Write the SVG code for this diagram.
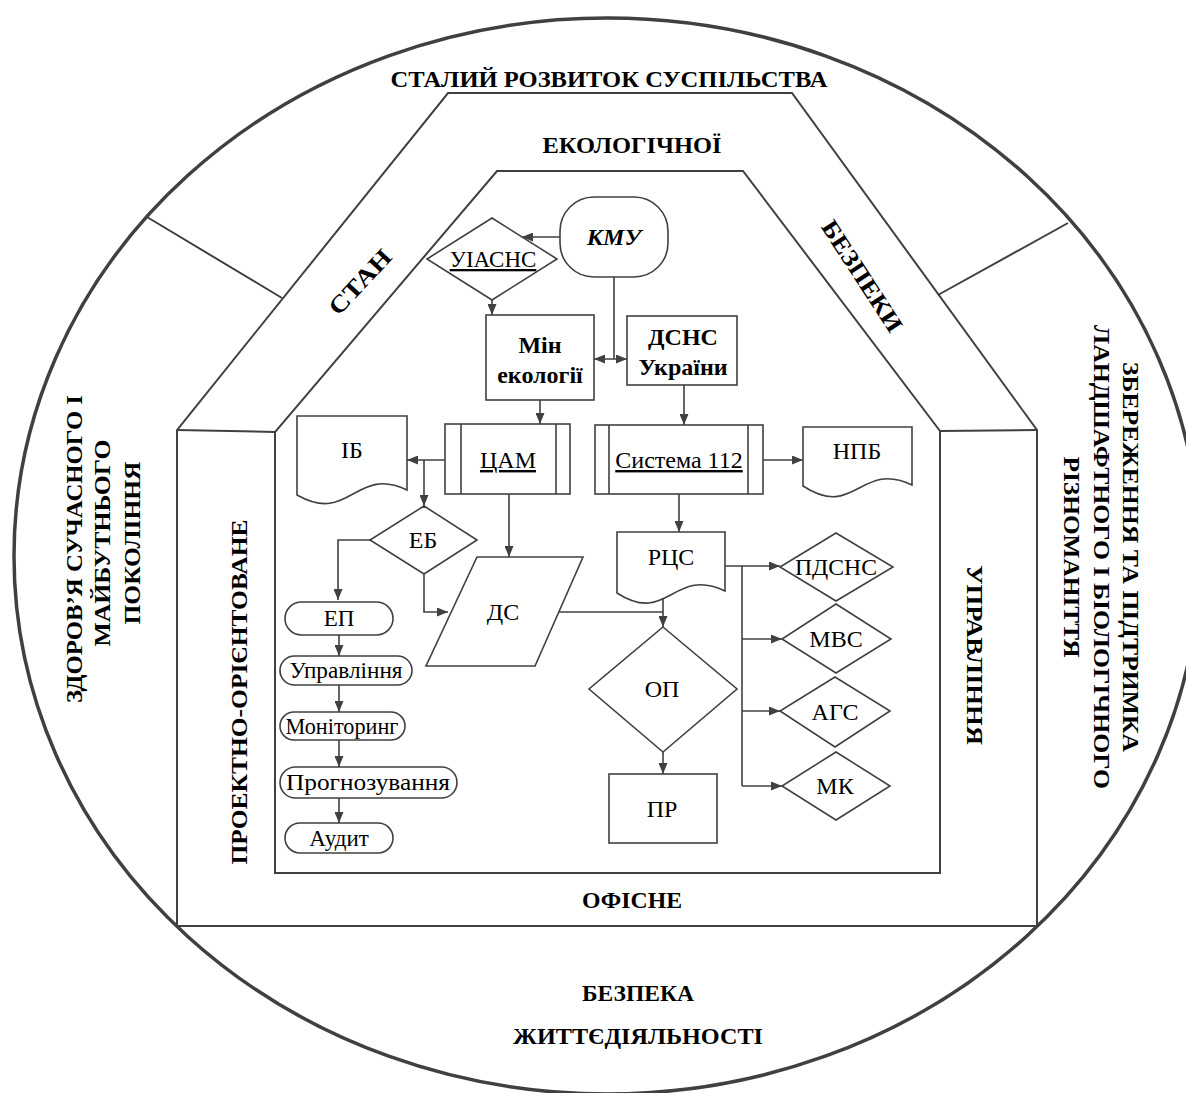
<svg xmlns="http://www.w3.org/2000/svg" width="1186" height="1093" viewBox="0 0 1186 1093" font-family="'Liberation Serif', 'DejaVu Serif', 'Times New Roman', serif">
<style>
text{font-family:'Liberation Serif','DejaVu Serif','Times New Roman',serif}
.ln{fill:none;stroke:#404040;stroke-width:2}
.nd{fill:#fff;stroke:#404040;stroke-width:1.6}
.cn{fill:none;stroke:#404040;stroke-width:1.6}
.t{fill:#000;text-anchor:middle}
.b{font-weight:bold}
.s23{font-size:23px}
.s24{font-size:24px}
.u{text-decoration:underline}
</style>
<defs>
<marker id="ar" markerUnits="userSpaceOnUse" markerWidth="11" markerHeight="9" refX="11" refY="4.5" orient="auto-start-reverse">
<path d="M0,0 L11,4.5 L0,9 z" fill="#404040"/>
</marker>
</defs>
<rect width="1186" height="1093" fill="#fff"/>
<g id="frame">
<ellipse cx="607" cy="556" rx="593" ry="538" fill="none" stroke="#404040" stroke-width="3.5"/>
<path class="ln" d="M448,93 H792 L1037,430 V926 H177 V430 Z"/>
<path class="ln" d="M497,171 H743 L940,431 V873 H275 V432 Z"/>
<path class="ln" d="M177,430 L275,432 M940,431 L1037,430"/>
<line class="ln" x1="275" y1="873" x2="940" y2="873" stroke-width="3"/>
<path class="ln" d="M147,217 L282,298 M1068,223 L938,295"/>
</g>
<g id="labels">
<text class="t b" x="609" y="87" font-size="23" textLength="437" lengthAdjust="spacingAndGlyphs">СТАЛИЙ РОЗВИТОК СУСПІЛЬСТВА</text>
<text class="t b" x="632" y="153" font-size="23" textLength="179" lengthAdjust="spacingAndGlyphs">ЕКОЛОГІЧНОЇ</text>
<text class="t b" font-size="24" transform="translate(360,282) rotate(-47)" y="8" textLength="80" lengthAdjust="spacingAndGlyphs">СТАН</text>
<text class="t b" font-size="24" transform="translate(862,276) rotate(57)" y="8" textLength="128" lengthAdjust="spacingAndGlyphs">БЕЗПЕКИ</text>
<text class="t b" font-size="24" transform="translate(239,692) rotate(-90)" y="8" textLength="345" lengthAdjust="spacingAndGlyphs">ПРОЕКТНО-ОРІЄНТОВАНЕ</text>
<text class="t b" font-size="24" transform="translate(975,655) rotate(90)" y="8" textLength="180" lengthAdjust="spacingAndGlyphs">УПРАВЛІННЯ</text>
<text class="t b" x="632" y="908" font-size="23" textLength="100" lengthAdjust="spacingAndGlyphs">ОФІСНЕ</text>
<text class="t b" x="638" y="1001" font-size="23" textLength="112" lengthAdjust="spacingAndGlyphs">БЕЗПЕКА</text>
<text class="t b" x="638" y="1044" font-size="23" textLength="250" lengthAdjust="spacingAndGlyphs">ЖИТТЄДІЯЛЬНОСТІ</text>
<text class="t b" font-size="24" transform="translate(74,549) rotate(-90)" y="8" textLength="308" lengthAdjust="spacingAndGlyphs">ЗДОРОВ’Я СУЧАСНОГО І</text>
<text class="t b" font-size="24" transform="translate(102,543) rotate(-90)" y="8" textLength="207" lengthAdjust="spacingAndGlyphs">МАЙБУТНЬОГО</text>
<text class="t b" font-size="24" transform="translate(132,543) rotate(-90)" y="8" textLength="163" lengthAdjust="spacingAndGlyphs">ПОКОЛІННЯ</text>
<text class="t b" font-size="24" transform="translate(1131,557) rotate(90)" y="8" textLength="390" lengthAdjust="spacingAndGlyphs">ЗБЕРЕЖЕННЯ ТА ПІДТРИМКА</text>
<text class="t b" font-size="24" transform="translate(1102,557) rotate(90)" y="8" textLength="464" lengthAdjust="spacingAndGlyphs">ЛАНДШАФТНОГО І БІОЛОГІЧНОГО</text>
<text class="t b" font-size="24" transform="translate(1072,557) rotate(90)" y="8" textLength="201" lengthAdjust="spacingAndGlyphs">РІЗНОМАНІТТЯ</text>
</g>
<g id="connectors">
<line class="cn" x1="560" y1="237" x2="522" y2="237" marker-end="url(#ar)"/>
<line class="cn" x1="492" y1="300" x2="492" y2="315" marker-end="url(#ar)"/>
<polyline class="cn" points="614,277 614,359"/>
<line class="cn" x1="594" y1="359" x2="627" y2="359" marker-start="url(#ar)" marker-end="url(#ar)"/>
<line class="cn" x1="540" y1="400" x2="540" y2="424" marker-end="url(#ar)"/>
<line class="cn" x1="684" y1="385" x2="684" y2="425" marker-end="url(#ar)"/>
<line class="cn" x1="445" y1="460" x2="407" y2="460" marker-end="url(#ar)"/>
<line class="cn" x1="424" y1="460" x2="424" y2="506" marker-end="url(#ar)"/>
<line class="cn" x1="509" y1="494" x2="509" y2="557" marker-end="url(#ar)"/>
<polyline class="cn" points="370,540 338,540 338,600" marker-end="url(#ar)"/>
<polyline class="cn" points="424,574 424,612 448,612" marker-end="url(#ar)"/>
<line class="cn" x1="763" y1="460" x2="803" y2="460" marker-end="url(#ar)"/>
<line class="cn" x1="679" y1="494" x2="679" y2="532" marker-end="url(#ar)"/>
<polyline class="cn" points="558,612 663,612"/>
<line class="cn" x1="663" y1="597" x2="663" y2="627" marker-end="url(#ar)"/>
<line class="cn" x1="725" y1="566" x2="780" y2="566" marker-end="url(#ar)"/>
<polyline class="cn" points="742,566 742,786"/>
<line class="cn" x1="742" y1="639" x2="782" y2="639" marker-end="url(#ar)"/>
<line class="cn" x1="742" y1="711" x2="780" y2="711" marker-end="url(#ar)"/>
<line class="cn" x1="742" y1="786" x2="782" y2="786" marker-end="url(#ar)"/>
<line class="cn" x1="663" y1="752" x2="663" y2="774" marker-end="url(#ar)"/>
<line class="cn" x1="339" y1="635" x2="339" y2="656" marker-end="url(#ar)"/>
<line class="cn" x1="339" y1="685" x2="339" y2="712" marker-end="url(#ar)"/>
<line class="cn" x1="339" y1="740" x2="339" y2="767" marker-end="url(#ar)"/>
<line class="cn" x1="339" y1="798" x2="339" y2="823" marker-end="url(#ar)"/>
</g>
<g id="kmu"><rect class="nd" x="560" y="197" width="108" height="80" rx="34" ry="34"/><text class="t b s24" x="614" y="245" font-style="italic">КМУ</text></g>
<g id="uiasns"><polygon class="nd" points="492,218 557,259 492,300 427,259"/><text class="t s23 u" x="493" y="267">УІАСНС</text></g>
<g id="min"><rect class="nd" x="486" y="315" width="108" height="85"/><text class="t b s24" x="540" y="353">Мін</text><text class="t b s24" x="540" y="383">екології</text></g>
<g id="dsns"><rect class="nd" x="627" y="316" width="110" height="69"/><text class="t b s24" x="683" y="345">ДСНС</text><text class="t b s24" x="683" y="375">України</text></g>
<g id="cam"><rect class="nd" x="445" y="424" width="125" height="70"/><path class="cn" d="M461,424 V494 M556,424 V494"/><text class="t s24 u" x="508" y="468">ЦАМ</text></g>
<g id="sys112"><rect class="nd" x="595" y="425" width="168" height="69"/><path class="cn" d="M609,425 V494 M748,425 V494"/><text class="t s24 u" x="679" y="468">Система 112</text></g>
<g id="ib"><path class="nd" d="M297,416 H407 V490 C355,465 350,525 297,495 Z"/><text class="t s24" x="352" y="458">ІБ</text></g>
<g id="npb"><path class="nd" d="M803,427 H912 V485 C860,460 855,520 803,486 Z"/><text class="t s24" x="857" y="459">НПБ</text></g>
<g id="rcs"><path class="nd" d="M617,532 H725 V591 C673,566 668,626 617,593 Z"/><text class="t s24" x="671" y="565">РЦС</text></g>
<g id="eb"><polygon class="nd" points="424,506 477,540 424,574 370,540"/><text class="t s24" x="423" y="548">ЕБ</text></g>
<g id="ds"><polygon class="nd" points="477,557 583,557 535,666 426,666"/><text class="t s24" x="503" y="620">ДС</text></g>
<g id="op"><polygon class="nd" points="663,627 737,689 663,752 589,689"/><text class="t s24" x="662" y="697">ОП</text></g>
<g id="pr"><rect class="nd" x="609" y="774" width="108" height="69"/><text class="t s24" x="662" y="817">ПР</text></g>
<g id="pdsns"><polygon class="nd" points="836,533 893,567 836,601 780,567"/><text class="t s24" x="836" y="575" textLength="82" lengthAdjust="spacingAndGlyphs">ПДСНС</text></g>
<g id="mvs"><polygon class="nd" points="836,604 891,639 836,673 782,639"/><text class="t s24" x="836" y="647">МВС</text></g>
<g id="ags"><polygon class="nd" points="835,677 890,711 835,747 780,711"/><text class="t s24" x="835" y="720">АГС</text></g>
<g id="mk"><polygon class="nd" points="836,752 890,786 836,820 782,786"/><text class="t s24" x="835" y="794">МК</text></g>
<g id="ep"><rect class="nd" x="285" y="602" width="108" height="33" rx="16.5"/><text class="t s23" x="339" y="626">ЕП</text></g>
<g id="upr"><rect class="nd" x="280" y="656" width="132" height="29" rx="14.5"/><text class="t s23" x="346" y="678" textLength="113" lengthAdjust="spacingAndGlyphs">Управління</text></g>
<g id="mon"><rect class="nd" x="280" y="712" width="125" height="28" rx="14"/><text class="t s23" x="342" y="734" textLength="113" lengthAdjust="spacingAndGlyphs">Моніторинг</text></g>
<g id="prog"><rect class="nd" x="280" y="767" width="177" height="31" rx="15.5"/><text class="t s23" x="368" y="790" textLength="164" lengthAdjust="spacingAndGlyphs">Прогнозування</text></g>
<g id="audit"><rect class="nd" x="285" y="823" width="108" height="30" rx="15"/><text class="t s23" x="339" y="846">Аудит</text></g>
</svg>
